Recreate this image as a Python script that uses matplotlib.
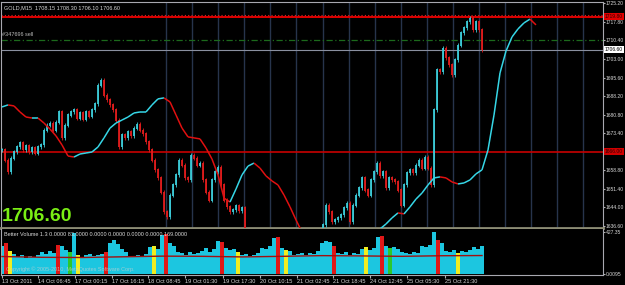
import numpy as np
import matplotlib
matplotlib.use("Agg")
import matplotlib.pyplot as plt
from matplotlib.collections import LineCollection

plt.rcParams['font.family'] = ['Liberation Sans', 'DejaVu Sans']

# GOLD M15 closes, one sample every 3 bars
close = [1666.8, 1662.8, 1658.1, 1663.6, 1666.0, 1668.0, 1669.6, 1666.8, 1668.4, 1666.0,
         1667.6, 1665.6, 1668.0, 1668.8, 1674.7, 1676.7, 1677.5, 1674.7, 1677.9, 1681.9,
         1671.6, 1676.7, 1680.7, 1681.9, 1682.7, 1679.5, 1681.5, 1679.1, 1681.9, 1680.3,
         1682.7, 1685.1, 1692.6, 1694.6, 1688.6, 1686.7, 1684.7, 1682.7, 1678.7, 1668.0,
         1672.8, 1671.6, 1674.0, 1672.4, 1675.5, 1677.1, 1674.7, 1673.2, 1670.0, 1666.8,
         1662.8, 1658.9, 1655.7, 1650.1, 1642.2, 1640.2, 1648.9, 1652.9, 1656.9, 1662.8,
         1660.8, 1655.7, 1654.9, 1664.8, 1663.6, 1660.8, 1661.6, 1654.9, 1650.1, 1646.9,
         1654.9, 1658.1, 1660.0, 1652.9, 1646.9, 1644.2, 1642.2, 1643.0, 1644.6, 1642.6,
         1643.8, 1635.0, 1631.0, 1629.1, 1627.1, 1625.1, 1623.9, 1622.3, 1621.1, 1622.3,
         1623.9, 1625.1, 1623.1, 1622.3, 1623.9, 1625.1, 1627.1, 1626.3, 1627.9, 1629.1,
         1627.9, 1629.5, 1631.0, 1630.2, 1631.8, 1632.6, 1634.2, 1637.0, 1644.9, 1642.2,
         1638.2, 1639.0, 1639.8, 1641.0, 1643.8, 1645.7, 1638.2, 1644.9, 1648.9, 1651.7,
         1655.7, 1650.9, 1648.9, 1654.9, 1658.1, 1661.6, 1656.5, 1658.1, 1651.7, 1655.7,
         1654.9, 1654.1, 1650.9, 1644.9, 1652.9, 1657.7, 1658.9, 1657.7, 1660.8, 1662.8,
         1659.6, 1664.0, 1659.6, 1652.9, 1682.7, 1698.6, 1697.8, 1707.3, 1703.4, 1700.6,
         1696.6, 1702.6, 1708.5, 1713.3, 1715.3, 1717.7, 1719.2, 1714.5, 1717.7, 1714.5,
         1706.6]

# shifted moving average, one sample every 6 bars
ma = [1683.9, 1684.7, 1684.3, 1681.9, 1679.9, 1679.5, 1679.5, 1677.5, 1675.1, 1672.4,
      1668.8, 1664.4, 1664.0, 1665.2, 1665.6, 1666.0, 1668.0, 1671.6, 1675.5, 1677.5,
      1678.7, 1679.9, 1681.5, 1681.9, 1681.9, 1684.7, 1687.1, 1687.5, 1685.9, 1680.7,
      1675.5, 1672.0, 1671.6, 1671.2, 1667.6, 1663.2, 1656.9, 1647.7, 1646.1, 1651.3,
      1656.9, 1660.4, 1661.6, 1659.6, 1656.5, 1654.5, 1652.9, 1648.9, 1644.2, 1639.0,
      1634.2, 1630.2, 1627.1, 1624.7, 1623.1, 1622.3, 1621.9, 1622.3, 1623.9, 1626.3,
      1628.7, 1631.0, 1633.4, 1635.4, 1637.4, 1639.8, 1641.8, 1641.4, 1644.2, 1647.3,
      1649.7, 1652.9, 1655.7, 1656.1, 1655.7, 1654.1, 1653.3, 1653.7, 1654.9, 1657.3,
      1658.9, 1666.8, 1680.7, 1697.4, 1706.1, 1711.7, 1714.9, 1717.3, 1718.8, 1716.5]

# Better Volume, one sample every 4 bars
vol = [285, 320, 235, 205, 175, 195, 165, 185, 175, 195, 225, 205, 235, 215, 300, 285,
       245, 225, 420, 195, 175, 195, 205, 185, 195, 205, 225, 320, 350, 310, 255, 225,
       185, 175, 195, 185, 205, 270, 290, 255, 395, 405, 320, 285, 225, 215, 195, 225,
       205, 215, 235, 265, 225, 255, 335, 325, 265, 245, 255, 225, 195, 205, 185, 195,
       215, 265, 255, 285, 370, 380, 265, 245, 235, 195, 205, 215, 195, 215, 205, 235,
       320, 340, 330, 285, 215, 205, 225, 195, 215, 205, 255, 275, 245, 265, 380, 390,
       285, 265, 275, 255, 225, 215, 205, 225, 215, 285, 275, 300, 430, 345, 320, 235,
       225, 245, 215, 235, 225, 245, 275, 255, 285]
vol_kind = ("crycccccccccccrc" "cgcyccccccrccccc" "ccccccyccrcccccc" "cccccccrcccyccccc"
            "ccccrcyccccccccc" "ccrcccccccycccrc" "gcccccccccccrccc" "cycccccc")
vol_avg = [178, 170, 168, 175, 182, 180, 174, 180, 187, 184, 180, 186, 188]

price_ticks = [1725.20, 1717.80, 1710.40, 1703.00, 1695.60, 1688.20, 1680.80,
               1673.40, 1658.80, 1651.40, 1644.00, 1636.60]
date_pos = [0, 36, 73, 110, 146, 183, 221, 258, 295, 331, 368, 405, 443]
date_labels = ['13 Oct 2011', '14 Oct 06:45', '17 Oct 00:15', '17 Oct 16:15',
               '18 Oct 08:45', '19 Oct 01:30', '19 Oct 17:30', '20 Oct 10:15',
               '21 Oct 02:45', '21 Oct 18:45', '24 Oct 12:45', '25 Oct 05:30',
               '25 Oct 21:30']
separators = [164, 190, 216, 242, 268, 294, 321, 347, 373, 399, 425, 451, 477,
              503, 529, 555, 581]

UP, DN = '#3ccbd8', '#e01c1c'
TXT = '#d8d8d8'
FS = 3.6

fig = plt.figure(figsize=(6.25, 2.85), dpi=100, facecolor='black')
ax = fig.add_axes([1 / 625, 1 - 228 / 285, 602 / 625, 226 / 285], facecolor='black')
axv = fig.add_axes([1 / 625, 1 - 275 / 285, 602 / 625, 46 / 285], facecolor='black')

for s in separators:
    ax.axvline(s, color='#27344c', lw=1.0, zorder=1)

# horizontal levels
ax.axhline(1720.5, color='#e02020', lw=0.8, ls=(0, (1, 2)), zorder=2)
ax.axhline(1719.8, color='#e00000', lw=1.4, zorder=2)
ax.axhline(1710.6, color='#1c6a1c', lw=0.9, ls=(0, (5, 2, 1, 2)), zorder=2)
ax.axhline(1706.6, color='#8a90a0', lw=0.8, zorder=2)
ax.axhline(1666.0, color='#c80000', lw=1.2, zorder=2)

# candles
cx = np.arange(len(close)) * 3
opens = [close[0]] + close[:-1]
lo = np.minimum(opens, close)
hi = np.maximum(opens, close)
cols = [UP if c >= o else DN for o, c in zip(opens, close)]
ax.vlines(cx, lo - 0.9, hi + 0.9, colors=cols, lw=0.6, zorder=3)
ax.vlines(cx, lo - 0.2, hi + 0.2, colors=cols, lw=1.3, zorder=3)

# moving average coloured by slope
mx = np.arange(len(ma)) * 6
pts = np.column_stack([mx, ma])
segs = np.stack([pts[:-1], pts[1:]], axis=1)
mcols = ['#36d6e6' if b >= a else '#e01010' for a, b in zip(ma[:-1], ma[1:])]
ax.add_collection(LineCollection(segs, colors=mcols, linewidths=1.1, zorder=4))

ax.set_xlim(-1, 601)
ax.set_ylim(1635.8, 1725.6)
ax.yaxis.tick_right()
ax.set_yticks(price_ticks)
ax.set_yticklabels([f'{v:.2f}' for v in price_ticks])
ax.tick_params(axis='y', length=1.5, pad=0.6, labelsize=FS, colors='#b0b0b0', labelcolor=TXT)
ax.set_xticks([])
for side in ['top', 'left', 'right']:
    ax.spines[side].set_color('#a8a8b0')
    ax.spines[side].set_linewidth(0.8)
ax.spines['bottom'].set_color('#8c8c74')
ax.spines['bottom'].set_linewidth(2.0)

tr = ax.get_yaxis_transform()
for val, lab, fc, tc in [(1719.8, '1719.80', '#e00000', '#300000'),
                         (1666.0, '1666.00', '#d00000', '#300000'),
                         (1706.6, '1706.60', 'white', 'black')]:
    ax.text(1.0035, val, lab, transform=tr, fontsize=FS, color=tc,
            va='center', ha='left', clip_on=False,
            bbox=dict(boxstyle='square,pad=0.2', fc=fc, ec='none'))

ax.text(0.005, 0.985, 'GOLD,M15  1708.15 1708.30 1706.10 1706.60', transform=ax.transAxes,
        fontsize=4.0, color=TXT, va='top', ha='left')
ax.text(0.007, 1711.6, '#347696 sell', fontsize=4.0, color='#b8b8b8', va='bottom', ha='left')
ax.text(0.002, 0.012, '1706.60', transform=ax.transAxes, fontsize=14, fontweight='bold',
        color='#7aee14', va='bottom', ha='left')

# volume window
vmap = {'c': '#1cc6e0', 'r': '#e01818', 'y': '#f0ee20', 'g': '#2cc82c', 'w': '#e0e0e0'}
vx = np.arange(len(vol)) * 4
axv.bar(vx, vol, width=4, color=[vmap[k] for k in vol_kind[:len(vol)]], linewidth=0, zorder=2)
axv.plot(np.arange(len(vol_avg)) * 40, vol_avg, color='#a01010', lw=1.0, zorder=3)
axv.set_xlim(-1, 601)
axv.set_ylim(-10, 458)
axv.yaxis.tick_right()
axv.set_yticks([427.35, 0])
axv.set_yticklabels(['427.35', '0.0095'])
axv.tick_params(axis='y', length=1.5, pad=0.6, labelsize=FS, colors='#b0b0b0', labelcolor=TXT)
axv.set_xticks(date_pos)
axv.set_xticklabels(date_labels)
axv.tick_params(axis='x', length=2, pad=1, labelsize=4.1, colors='#b0b0b0', labelcolor=TXT)
for lab in axv.get_xticklabels():
    lab.set_horizontalalignment('left')
for side in ['left', 'right', 'bottom']:
    axv.spines[side].set_color('#a8a8b0')
    axv.spines[side].set_linewidth(0.8)
axv.spines['top'].set_visible(False)
axv.text(0.005, 0.93, 'Better Volume 1.3 0.0000 83.0000 0.0000 0.0000 0.0000 0.0000 169.0000',
         transform=axv.transAxes, fontsize=4.0, color=TXT, va='top', ha='left', zorder=5)
axv.text(0.008, 0.06, 'Copyright \u00a9 2005-2010, MetaQuotes Software Corp.',
         transform=axv.transAxes, fontsize=4.0, color='#d0d0d0', alpha=0.7,
         va='bottom', ha='left', zorder=5)

fig.savefig('out.png', dpi=100, facecolor='black')
